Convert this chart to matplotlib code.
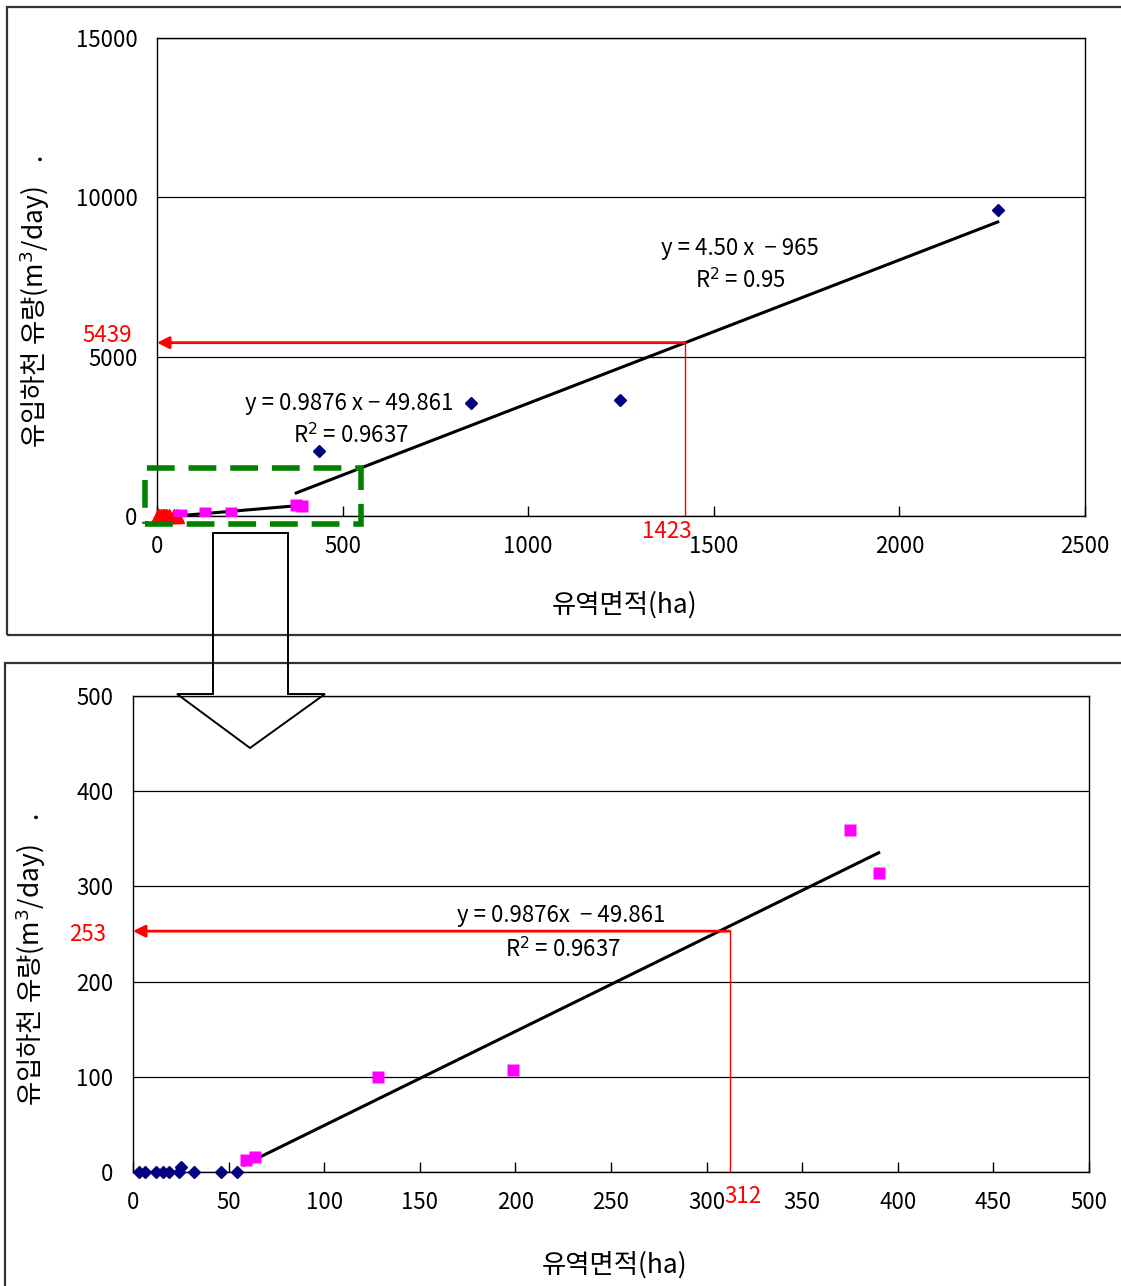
import numpy as np
import matplotlib.pyplot as plt
from matplotlib.patches import Rectangle, Polygon

plt.rcParams['font.family'] = ['Noto Sans CJK KR', 'DejaVu Sans']
plt.rcParams['mathtext.fontset'] = 'dejavusans'

# small catchments (< 60 ha)
small_area = [3, 6.5, 12, 15.5, 19, 24, 25, 32, 46, 54.5]
small_flow = [0, 0, 0, 0, 0, 0, 5, 0, 0, 0]
# medium catchments
mid_area = [59, 64, 128, 199, 375, 390]
mid_flow = [13, 16, 100, 107, 359, 314]
# large catchments
big_area = [437, 847, 1246, 2265]
big_flow = [2050, 3550, 3630, 9600]

# regression coefficients
a1, b1, r1 = 0.9876, -49.861, 0.9637
a2, b2, r2 = 4.50, -965, 0.95
fit1_range = [55, 390]
fit2_range = [375, 2265]

# read-off points
top_pick = (1423, 5439)
bot_pick = (312, 253)

W, H = 1121, 1286
fig = plt.figure(figsize=(W / 100, H / 100), dpi=100)


def px(x, y):
    return x / W, 1 - y / H


# panel frames
for x0, y0, x1, y1 in [(7, 7, 1135, 635), (5, 663, 1135, 1300)]:
    fig.patches.append(Rectangle(px(x0, y1), (x1 - x0) / W, (y1 - y0) / H,
                                 transform=fig.transFigure, fill=False,
                                 edgecolor='#333333', lw=1.6, zorder=0))

ax1 = fig.add_axes([157 / W, 1 - 516 / H, 928 / W, 478 / H])
ax2 = fig.add_axes([133 / W, 1 - 1172 / H, 956 / W, 476 / H])

for ax in (ax1, ax2):
    ax.grid(axis='y', color='black', lw=0.9)
    ax.set_axisbelow(True)
    for s in ax.spines.values():
        s.set_linewidth(1.0)
    ax.tick_params(axis='x', direction='in', length=7, width=1, pad=14, labelsize=16)
    ax.tick_params(axis='y', direction='in', length=0, pad=14, labelsize=16)

# upper chart
ax1.set_xlim(0, 2500)
ax1.set_ylim(0, 15000)
ax1.set_xticks(np.arange(0, 2501, 500))
ax1.set_yticks(np.arange(0, 15001, 5000))

x = np.array(fit1_range)
ax1.plot(x, a1 * x + b1, color='black', lw=2.2)
x = np.array(fit2_range)
ax1.plot(x, a2 * x + b2, color='black', lw=2.2)
ax1.plot(small_area, small_flow, '^', color='red', ms=10, clip_on=False, zorder=5)
ax1.plot(mid_area, mid_flow, 's', color='magenta', ms=8, mec='none', zorder=5)
ax1.plot(big_area, big_flow, 'D', color='navy', ms=6, zorder=5)

ax1.annotate('', xy=(0, top_pick[1]), xytext=top_pick,
             arrowprops=dict(arrowstyle='-|>', color='red', lw=2,
                             mutation_scale=18, shrinkA=0, shrinkB=0))
ax1.plot([top_pick[0], top_pick[0]], [0, top_pick[1]], color='red', lw=1)
ax1.text(-135, 5650, f'{top_pick[1]}', color='red', fontsize=16,
         ha='center', va='center', clip_on=False)
ax1.text(1373, -480, f'{top_pick[0]}', color='red', fontsize=16,
         ha='center', va='center', clip_on=False)

ax1.text(518, 3520, f'y = {a1} x − {-b1}', fontsize=16, ha='center', va='center')
ax1.text(523, 2515, f'R$^2$ = {r1}', fontsize=16, ha='center', va='center')
ax1.text(1570, 8395, f'y = {a2:.2f} x  − {-b2}', fontsize=16, ha='center', va='center')
ax1.text(1572, 7390, f'R$^2$ = {r2}', fontsize=16, ha='center', va='center')

ax1.add_patch(Rectangle((-32, -250), 582, 1760, fill=False, edgecolor='#008000',
                        lw=4, linestyle=(0, (5, 2.5)), clip_on=False, zorder=6))

# lower chart
ax2.set_xlim(0, 500)
ax2.set_ylim(0, 500)
ax2.set_xticks(np.arange(0, 501, 50))
ax2.set_yticks(np.arange(0, 501, 100))

x = np.array([58, 390])
ax2.plot(x, a1 * x + b1, color='black', lw=2.2)
ax2.plot(small_area, small_flow, 'D', color='navy', ms=6, clip_on=False, zorder=5)
ax2.plot(mid_area, mid_flow, 's', color='magenta', ms=8, mec='none', zorder=5)

ax2.annotate('', xy=(0, bot_pick[1]), xytext=bot_pick,
             arrowprops=dict(arrowstyle='-|>', color='red', lw=2,
                             mutation_scale=18, shrinkA=0, shrinkB=0))
ax2.plot([bot_pick[0], bot_pick[0]], [0, bot_pick[1]], color='red', lw=1)
ax2.text(-24, 249, f'{bot_pick[1]}', color='red', fontsize=16,
         ha='center', va='center', clip_on=False)
ax2.text(319, -26, f'{bot_pick[0]}', color='red', fontsize=16,
         ha='center', va='center', clip_on=False)

ax2.text(224, 269, f'y = {a1}x  − {-b1}', fontsize=16, ha='center', va='center')
ax2.text(225, 234, f'R$^2$ = {r1}', fontsize=16, ha='center', va='center')

# axis titles
ylab = '유입하천 유량(m$^3$/day)    .'
fig.text(*px(35, 302), ylab, rotation=90, fontsize=19, ha='center', va='center')
fig.text(*px(31, 960), ylab, rotation=90, fontsize=19, ha='center', va='center')
fig.text(*px(625, 605), '유역면적(ha)', fontsize=19, ha='center', va='center')
fig.text(*px(615, 1265), '유역면적(ha)', fontsize=19, ha='center', va='center')

# hollow arrow linking the zoomed region
outline = [(213, 533), (213, 694), (177, 694), (250, 748),
           (325, 694), (288, 694), (288, 533)]
fig.patches.append(Polygon([px(a, b) for a, b in outline], closed=True,
                           transform=fig.transFigure, fill=False,
                           edgecolor='black', lw=1.4, zorder=10))

fig.savefig('out.png', dpi=100)
